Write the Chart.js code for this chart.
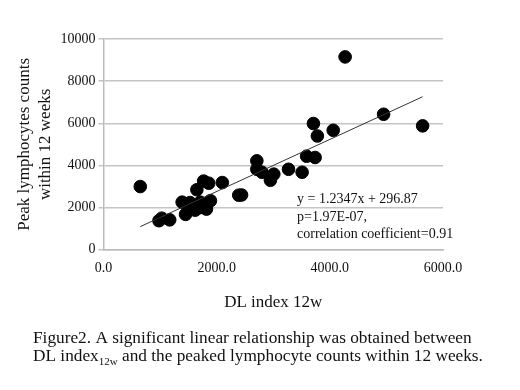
<!DOCTYPE html>
<html>
<head>
<meta charset="utf-8">
<script src="https://cdn.jsdelivr.net/npm/chart.js@4"></script>
<style>
  body { margin: 0; background: #fff; }
  #wrap { width: 520px; height: 390px; }
</style>
</head>
<body>
<div id="wrap"><canvas id="scatter" width="520" height="390"></canvas></div>
<script>
// DL index 12w (x) vs peak lymphocyte counts (y)
const dlIndex = [650, 980, 1030, 1170, 1390, 1450, 1530, 1620, 1650, 1710,
  1770, 1860, 1800, 1820, 1890, 1600, 1700, 2100, 2390, 2440,
  2710, 2710, 2800, 2950, 3010, 3270, 3510, 3590, 3740, 3710,
  3780, 4060, 4270, 4950, 5640];
const peakLympho = [3000, 1380, 1500, 1420, 2260, 1680, 2240, 1880, 2850, 2260,
  3260, 3160, 2080, 1930, 2330, 2100, 2000, 3190, 2590, 2600,
  4220, 3820, 3680, 3300, 3590, 3820, 3680, 4440, 4380, 5990,
  5400, 5670, 9150, 6430, 5880];
const xTicks = [0, 2000, 4000, 6000];
const yTicks = [0, 2000, 4000, 6000, 8000, 10000];
const slope = 1.2347, intercept = 296.87;
const fitLabel = ['y = 1.2347x + 296.87', 'p=1.97E-07,', 'correlation coefficient=0.91'];

const serif = '"Liberation Serif", "Times New Roman", serif';
const pts = dlIndex.map((x, i) => ({ x: x, y: peakLympho[i] }));
const xMin = Math.min(...dlIndex), xMax = Math.max(...dlIndex);
const fit = [xMin, xMax].map(x => ({ x: x, y: slope * x + intercept }));

const textPlugin = {
  id: 'texts',
  afterDraw(chart) {
    const c = chart.ctx;
    c.save();
    c.fillStyle = '#111';
    c.textBaseline = 'alphabetic';
    c.font = '14px ' + serif;
    fitLabel.forEach((t, i) => c.fillText(t, 297, 203 + i * 17.5));

    c.font = '17.3px ' + serif;
    c.fillText('Figure2. A significant linear relationship was obtained between', 33, 343);
    let x = 33;
    c.fillText('DL index', x, 361);
    x += c.measureText('DL index').width;
    c.font = '11px ' + serif;
    c.fillText('12w', x, 365);
    x += c.measureText('12w').width;
    c.font = '17.3px ' + serif;
    c.fillText(' and the peaked lymphocyte counts within 12 weeks.', x, 361);
    c.restore();
  }
};

new Chart(document.getElementById('scatter'), {
  type: 'scatter',
  data: {
    datasets: [{
      data: pts,
      backgroundColor: '#000',
      borderColor: '#000',
      pointRadius: 6.3,
      order: 2
    }, {
      type: 'line',
      data: fit,
      borderColor: '#333',
      borderWidth: 1,
      pointRadius: 0,
      fill: false,
      order: 1
    }]
  },
  options: {
    responsive: false,
    animation: false,
    layout: { padding: { left: 14, right: 77, top: 39, bottom: 73 } },
    plugins: { legend: { display: false }, tooltip: { enabled: false } },
    scales: {
      x: {
        min: 0, max: 6000,
        afterBuildTicks: s => { s.ticks = xTicks.map(v => ({ value: v })); },
        grid: { display: false, drawTicks: true, tickLength: 4 },
        border: { color: '#bbb', width: 1.5 },
        ticks: { color: '#111', font: { family: serif, size: 14 }, padding: 6,
          callback: v => v.toFixed(1) },
        title: { display: true, text: 'DL index 12w', color: '#111',
          font: { family: serif, size: 17 }, padding: { top: 10 } }
      },
      y: {
        min: 0, max: 10000,
        afterBuildTicks: s => { s.ticks = yTicks.map(v => ({ value: v })); },
        grid: { color: '#c4c4c4', lineWidth: 1.5, tickLength: 5 },
        border: { color: '#bbb', width: 1.5 },
        ticks: { color: '#111', font: { family: serif, size: 14 }, padding: 3,
          callback: v => String(v) },
        title: { display: true, text: ['Peak lymphocytes counts', 'within 12 weeks'],
          color: '#111', font: { family: serif, size: 17, lineHeight: 1.25 },
          padding: { top: 0, bottom: 1 } }
      }
    }
  },
  plugins: [textPlugin]
});
</script>
</body>
</html>
